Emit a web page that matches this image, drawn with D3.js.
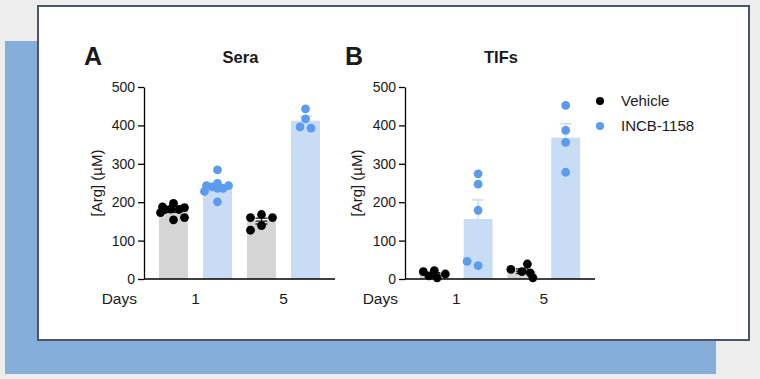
<!DOCTYPE html>
<html>
<head>
<meta charset="utf-8">
<script src="https://cdn.jsdelivr.net/npm/d3@7"></script>
<style>
	body { margin: 0; background: #ededed; }
	svg text { font-family: 'Liberation Sans', Arial, sans-serif; fill: #1a1a1a; }
	.axis path, .axis line { stroke: #000; stroke-width: 1.3px; }
	.axis text { font-size: 14px; }
</style>
</head>
<body>
<div id="chart"></div>
<script>
// values, [Arg] in uM
var days = ['1', '5'];
var groups = ['Vehicle', 'INCB-1158'];

var seraVehicleD1 = [197, 188, 186, 182, 181, 181, 173, 160, 154];
var seraIncbD1 = [284, 249, 243, 243, 240, 236, 236, 228, 201];
var seraVehicleD5 = [168, 160, 160, 139, 127];
var seraIncbD5 = [443, 417, 396, 393];

var tifVehicleD1 = [22, 19, 13, 8, 3];
var tifIncbD1 = [274, 247, 179, 35, 46];
var tifVehicleD5 = [19, 25, 39, 3, 16];
var tifIncbD5 = [452, 387, 356, 278];

var yTicks = [0, 100, 200, 300, 400, 500];

var barColors = ['#d5d5d5', '#c8dcf6'];
var dotColors = ['#000000', '#5b9cef'];
var errColors = ['#1a1a1a', '#c3d8f4'];

var width = 760, height = 379;
var plotTop = 87, plotBottom = 279;
var dotR = 4.4;

var svg = d3.select('#chart').append('svg')
	.attr('width', width)
	.attr('height', height);

// backdrop + card
svg.append('rect')
	.attr('x', 5).attr('y', 41)
	.attr('width', 711).attr('height', 333)
	.attr('fill', '#86aedb');

svg.append('rect')
	.attr('x', 38).attr('y', 6)
	.attr('width', 711).attr('height', 334)
	.attr('fill', '#fff')
	.attr('stroke', '#4b5567')
	.attr('stroke-width', 2);

var y = d3.scaleLinear()
	.domain([0, 500])
	.range([plotBottom, plotTop]);

function mean(a) { return d3.mean(a); }
function sem(a) { return d3.deviation(a) / Math.sqrt(a.length); }

// simple dodge so the dots don't pile up on the bar centre
function swarm(vals) {
	var placed = [];
	var offsets = [0, -5.5, 5.5, -11, 11, -8.3, 8.3, -2.8, 2.8, -13, 13];
	return vals.map(function(v) {
		var py = y(v);
		var best = 0, bestD = -1;
		for (var i = 0; i < offsets.length; i++) {
			var o = offsets[i];
			var minD = Infinity;
			placed.forEach(function(p) {
				var d = Math.sqrt((o - p.dx) * (o - p.dx) + (py - p.y) * (py - p.y));
				if (d < minD) minD = d;
			});
			if (minD >= 9) { best = o; bestD = minD; break; }
			if (minD > bestD) { bestD = minD; best = o; }
		}
		var pt = { v: v, y: py, dx: best };
		placed.push(pt);
		return pt;
	});
}

function drawPanel(opts) {
	var g = svg.append('g').attr('transform', 'translate(' + opts.left + ',0)');
	var w = opts.width;

	var keys = [];
	days.forEach(function(d) { groups.forEach(function(gr) { keys.push(d + '|' + gr); }); });

	var x = d3.scaleBand()
		.domain(keys)
		.range([0, w])
		.padding(0.34);

	var sets = [
		{ key: '1|Vehicle', gi: 0, vals: opts.data[0] },
		{ key: '1|INCB-1158', gi: 1, vals: opts.data[1] },
		{ key: '5|Vehicle', gi: 0, vals: opts.data[2] },
		{ key: '5|INCB-1158', gi: 1, vals: opts.data[3] }
	];

	// bars
	g.selectAll('.bar')
		.data(sets)
		.enter().append('rect')
		.attr('class', 'bar')
		.attr('x', function(d) { return x(d.key); })
		.attr('width', x.bandwidth())
		.attr('y', function(d) { return y(mean(d.vals)); })
		.attr('height', function(d) { return y(0) - y(mean(d.vals)); })
		.attr('fill', function(d) { return barColors[d.gi]; });

	// error bars (mean +/- SEM); the treated ones only show above the bar
	var err = g.selectAll('.err')
		.data(sets)
		.enter().append('g')
		.attr('class', 'err')
		.attr('stroke', function(d) { return errColors[d.gi]; })
		.attr('stroke-width', 1.3);

	err.append('line')
		.attr('x1', function(d) { return x(d.key) + x.bandwidth() / 2; })
		.attr('x2', function(d) { return x(d.key) + x.bandwidth() / 2; })
		.attr('y1', function(d) { return y(d.gi ? mean(d.vals) : Math.max(0, mean(d.vals) - sem(d.vals))); })
		.attr('y2', function(d) { return y(mean(d.vals) + sem(d.vals)); });

	err.append('line')
		.attr('x1', function(d) { return x(d.key) + x.bandwidth() / 2 - 6; })
		.attr('x2', function(d) { return x(d.key) + x.bandwidth() / 2 + 6; })
		.attr('y1', function(d) { return y(mean(d.vals) + sem(d.vals)); })
		.attr('y2', function(d) { return y(mean(d.vals) + sem(d.vals)); });

	var vehErr = err.filter(function(d) { return d.gi === 0; });

	vehErr.append('line')
		.attr('x1', function(d) { return x(d.key) + x.bandwidth() / 2 - 6; })
		.attr('x2', function(d) { return x(d.key) + x.bandwidth() / 2 + 6; })
		.attr('y1', function(d) { return y(Math.max(0, mean(d.vals) - sem(d.vals))); })
		.attr('y2', function(d) { return y(Math.max(0, mean(d.vals) - sem(d.vals))); });

	// mean line
	vehErr.append('line')
		.attr('x1', function(d) { return x(d.key) + x.bandwidth() / 2 - 6; })
		.attr('x2', function(d) { return x(d.key) + x.bandwidth() / 2 + 6; })
		.attr('y1', function(d) { return y(mean(d.vals)); })
		.attr('y2', function(d) { return y(mean(d.vals)); });

	// dots
	sets.forEach(function(s) {
		var cx = x(s.key) + x.bandwidth() / 2;
		g.append('g').selectAll('circle')
			.data(swarm(s.vals))
			.enter().append('circle')
			.attr('cx', function(d) { return cx + d.dx; })
			.attr('cy', function(d) { return d.y; })
			.attr('r', dotR)
			.attr('fill', dotColors[s.gi]);
	});

	// axes
	g.append('g')
		.attr('class', 'y axis')
		.call(d3.axisLeft(y).tickValues(yTicks).tickSize(6).tickSizeOuter(0).tickPadding(3));

	g.append('line')
		.attr('x1', 0).attr('x2', w)
		.attr('y1', y(0)).attr('y2', y(0))
		.attr('stroke', '#000')
		.attr('stroke-width', 1.3);

	g.append('text')
		.attr('x', -7)
		.attr('y', y(0) + 25)
		.attr('text-anchor', 'end')
		.style('font-size', '15.5px')
		.text('Days');

	g.selectAll('.day-label')
		.data(days)
		.enter().append('text')
		.attr('class', 'day-label')
		.attr('x', function(d) {
			return (x(d + '|' + groups[0]) + x(d + '|' + groups[1]) + x.bandwidth()) / 2;
		})
		.attr('y', y(0) + 25)
		.attr('text-anchor', 'middle')
		.style('font-size', '15.5px')
		.text(function(d) { return d; });

	// y label
	g.append('text')
		.attr('transform', 'translate(' + opts.yLabelX + ',' + (plotTop + plotBottom) / 2 + ') rotate(-90)')
		.attr('text-anchor', 'middle')
		.attr('dy', '0.35em')
		.style('font-size', '15px')
		.text('[Arg] (\u00b5M)');

	// titles
	g.append('text')
		.attr('x', w / 2 + 1)
		.attr('y', 63)
		.attr('text-anchor', 'middle')
		.style('font-size', '16.5px')
		.style('font-weight', 'bold')
		.text(opts.title);

	g.append('text')
		.attr('x', opts.letterX)
		.attr('y', 65)
		.style('font-size', '25px')
		.style('font-weight', 'bold')
		.text(opts.letter);
}

drawPanel({
	left: 144, width: 191, title: 'Sera', letter: 'A', letterX: -60, yLabelX: -47,
	data: [seraVehicleD1, seraIncbD1, seraVehicleD5, seraIncbD5]
});

drawPanel({
	left: 405, width: 190, title: 'TIFs', letter: 'B', letterX: -60, yLabelX: -48,
	data: [tifVehicleD1, tifIncbD1, tifVehicleD5, tifIncbD5]
});

// legend
var legend = svg.append('g').attr('transform', 'translate(600,101)');
var item = legend.selectAll('.legend')
	.data(groups)
	.enter().append('g')
	.attr('class', 'legend')
	.attr('transform', function(d, i) { return 'translate(0,' + i * 25 + ')'; });

item.append('circle')
	.attr('r', 4)
	.attr('fill', function(d, i) { return dotColors[i]; });

item.append('text')
	.attr('x', 21)
	.attr('dy', '0.35em')
	.style('font-size', '15px')
	.text(function(d) { return d; });
</script>
</body>
</html>
